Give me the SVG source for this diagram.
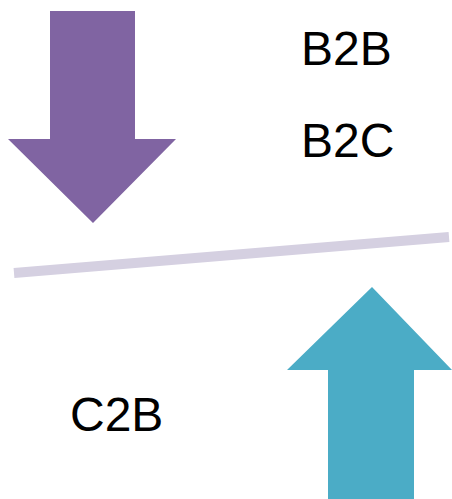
<svg xmlns="http://www.w3.org/2000/svg" width="452" height="499" viewBox="0 0 452 499">
  <style>
    .label { font-family: "Liberation Sans", Arial, sans-serif; font-size: 48px; fill: #000000; }
    .down { fill: #8064a2; }
    .up { fill: #4bacc6; }
    .divider { stroke: #d5d0e1; stroke-width: 10; fill: none; }
  </style>
  <g id="arrow-down">
    <polygon class="down" points="50,11 135,11 135,139 176,139 93,223 8,139 50,139"/>
  </g>
  <g id="arrow-up">
    <polygon class="up" points="372,287 452,370 414,370 414,499 328,499 328,370 287,370"/>
  </g>
  <g id="divider">
    <line class="divider" x1="14" y1="273" x2="449" y2="237"/>
  </g>
  <g id="label-b2b"><text class="label" x="301" y="65">B2B</text></g>
  <g id="label-b2c"><text class="label" x="301" y="157">B2C</text></g>
  <g id="label-c2b"><text class="label" x="70" y="431">C2B</text></g>
</svg>
